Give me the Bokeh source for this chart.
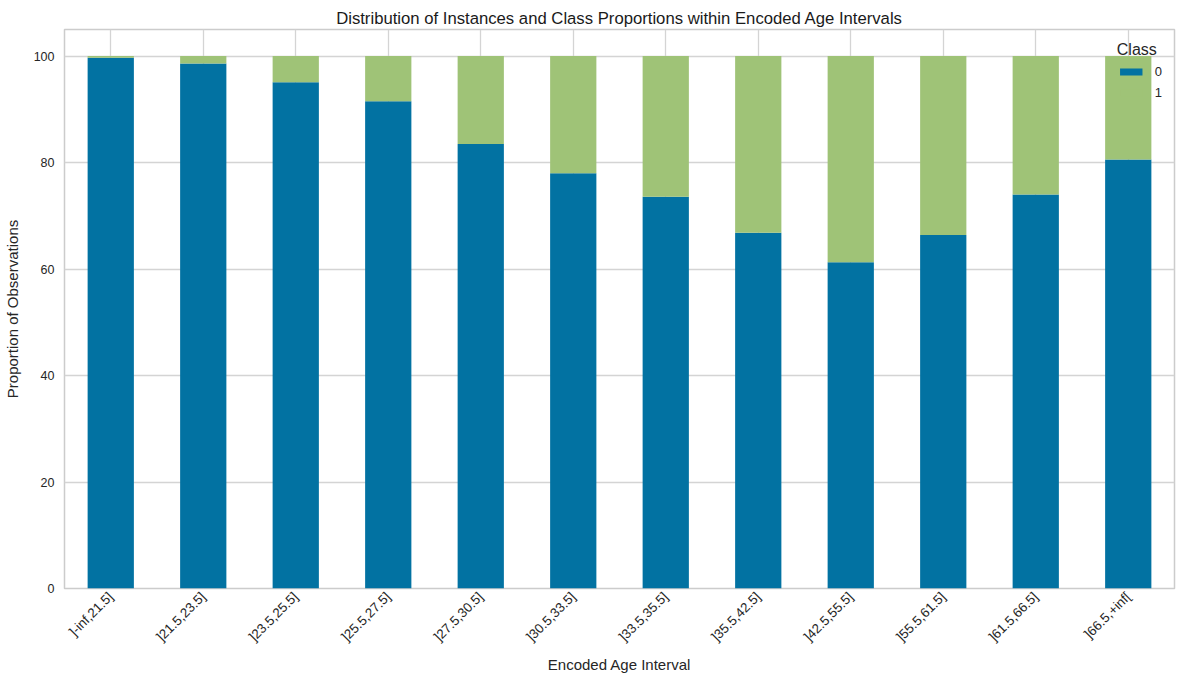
import math
from bokeh.plotting import figure
from bokeh.models import FactorRange, Range1d, FixedTicker
from bokeh.embed import file_html
from bokeh.resources import INLINE

# Age intervals and share (%) of each class within them
intervals = ["]-inf,21.5]", "]21.5,23.5]", "]23.5,25.5]", "]25.5,27.5]",
             "]27.5,30.5]", "]30.5,33.5]", "]33.5,35.5]", "]35.5,42.5]",
             "]42.5,55.5]", "]55.5,61.5]", "]61.5,66.5]", "]66.5,+inf["]
class_0 = [99.7, 98.6, 95.1, 91.5, 83.5, 78.0, 73.6, 66.8, 61.3, 66.4, 74.0, 80.6]
class_1 = [0.3, 1.4, 4.9, 8.5, 16.5, 22.0, 26.4, 33.2, 38.7, 33.6, 26.0, 19.4]
classes = ["0", "1"]
colors = ["#0272a2", "#9fc377"]
y_ticks = [0, 20, 40, 60, 80, 100]

FONT = "Liberation Sans"
TEXT = "#262626"

source = dict(interval=intervals, **{"0": class_0, "1": class_1})

p = figure(
    width=1184, height=684,
    x_range=FactorRange(factors=intervals),
    y_range=Range1d(0, 105),
    output_backend="svg", toolbar_location=None,
    min_border_left=63, min_border_right=10,
    min_border_top=29, min_border_bottom=96,
    title="Distribution of Instances and Class Proportions within Encoded Age Intervals",
)

p.vbar_stack(classes, x="interval", width=0.5, source=source,
             color=colors, line_color=None, legend_label=classes)

# frame and grid
p.background_fill_color = "white"
p.border_fill_color = "white"
p.outline_line_color = "#cccccc"
p.outline_line_width = 1.5
p.grid.grid_line_color = "#d4d4d4"
p.grid.grid_line_width = 1.3

# title
p.title.text_font = FONT
p.title.text_font_size = "16.7px"
p.title.text_font_style = "normal"
p.title.text_color = "#1a1a1a"
p.title.align = "center"
p.title.standoff = 3

# axes
for ax in (p.xaxis[0], p.yaxis[0]):
    ax.axis_line_color = None
    ax.major_tick_line_color = None
    ax.minor_tick_line_color = None
    ax.major_tick_out = 0
    ax.major_tick_in = 0
    ax.major_label_text_font = FONT
    ax.major_label_text_font_size = "12.5px"
    ax.major_label_text_color = TEXT
    ax.axis_label_text_font = FONT
    ax.axis_label_text_font_size = "15px"
    ax.axis_label_text_font_style = "normal"
    ax.axis_label_text_color = TEXT

p.yaxis.ticker = FixedTicker(ticks=y_ticks)
p.yaxis.axis_label = "Proportion of Observations"
p.yaxis.major_label_standoff = 10
p.yaxis.axis_label_standoff = 10

p.xaxis.axis_label = "Encoded Age Interval"
p.xaxis.major_label_orientation = math.pi / 4
p.xaxis.major_label_text_font_size = "13.3px"
p.xaxis.major_label_standoff = 6
p.xaxis.axis_label_standoff = 3

# legend
lg = p.legend[0]
lg.title = "Class"
lg.title_text_font = FONT
lg.title_text_font_size = "16px"
lg.title_text_font_style = "normal"
lg.title_text_color = TEXT
lg.title_standoff = 5
lg.label_text_font = FONT
lg.label_text_font_size = "13px"
lg.label_text_color = TEXT
lg.location = "top_right"
lg.background_fill_alpha = 0
lg.border_line_color = None
lg.margin = 12
lg.padding = 6
lg.glyph_width = 28
lg.glyph_height = 9
lg.label_height = 9
lg.label_width = 7
lg.spacing = 6
lg.label_standoff = 10

open("out.html", "w").write(file_html(p, INLINE))
